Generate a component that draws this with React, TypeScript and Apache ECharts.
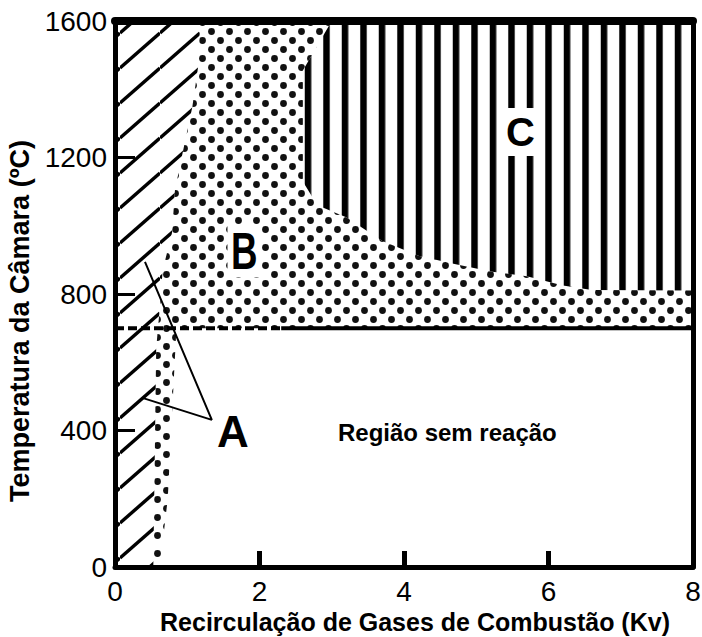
import React, { useEffect, useRef } from "react";
import * as echarts from "echarts";

// ---- axes ----
const xMin = 0;
const xMax = 8;
const xStep = 2;
const yMin = 0;
const yMax = 1600;
const yStep = 400;

// ---- Region A (diagonal hatch): right edge, bottom -> top ----
const hatchEdgeX = [0.53, 0.57, 0.62, 0.66, 0.79, 0.83, 0.93, 1.07, 1.15, 1.18];
const hatchEdgeY = [0, 640, 760, 870, 980, 1105, 1207, 1348, 1465, 1600];

// ---- Region C (vertical stripes): edge, top-left -> right ----
const stripeEdgeX = [3.0, 2.6, 2.6, 2.8, 3.2, 3.7, 4.2, 4.7, 5.2, 5.7, 6.2, 6.6, 8];
const stripeEdgeY = [1600, 1455, 1130, 1060, 1025, 955, 912, 888, 866, 852, 825, 812, 810];

// ---- Region B dotted strip below the threshold: right edge, bottom -> top ----
const dotStripX = [0.62, 0.73, 0.85];
const dotStripY = [0, 200, 700];

// ---- threshold line ----
const thresholdTemp = 700;
const dashedEndX = 2.3;

// ---- pointer lines of label A ----
const arrowX = [0.415, 1.34, 0.39];
const arrowY = [894, 431, 495];

// ---- annotations ----
const labelText = ["A", "B", "C", "Região sem reação"];
const labelX = [1.63, 1.79, 5.61, 4.6];
const labelY = [396, 926, 1275, 393];

const regionNames = ["A", "B", "C"];

const NARROW = "'Liberation Sans Narrow', 'Arial Narrow', 'Liberation Sans', Arial, sans-serif";
const SANS = "'Liberation Sans', Arial, Helvetica, sans-serif";

function tile(w: number, h: number, inner: string) {
  return {
    image:
      "data:image/svg+xml;charset=utf-8," +
      encodeURIComponent(
        `<svg xmlns="http://www.w3.org/2000/svg" width="${w}" height="${h}" viewBox="0 0 ${w} ${h}">${inner}</svg>`
      ),
    imageWidth: w,
    imageHeight: h,
    repeat: "repeat",
  };
}

function hatchPattern() {
  const W = 40;
  const H = 35;
  const d = -2;
  let s = "";
  for (let k = -2; k <= 2; k++) {
    s += `<line x1="0" y1="${H + k * H + d}" x2="${W}" y2="${k * H + d}" stroke="#000" stroke-width="3.5"/>`;
  }
  return tile(W, H, s);
}

function dotPattern() {
  const s =
    `<circle cx="4.5" cy="4.5" r="3.4" fill="#111"/>` +
    `<circle cx="13.5" cy="13.5" r="3.4" fill="#111"/>`;
  return tile(18, 18, s);
}

function stripePattern() {
  const s = `<rect x="8.75" y="0" width="6.5" height="10" fill="#000"/>`;
  return tile(18.5, 10, s);
}

function zipPts(xs: number[], ys: number[]) {
  return xs.map((x, i) => [x, ys[i]]);
}

function buildRegions() {
  const hatch = zipPts(hatchEdgeX, hatchEdgeY);
  const stripe = zipPts(stripeEdgeX, stripeEdgeY);
  const strip = zipPts(dotStripX, dotStripY);
  const A = [[xMin, yMin], ...hatch, [xMin, yMax]];
  const B = [
    ...hatch,
    ...stripe,
    [xMax, thresholdTemp],
    ...strip.slice().reverse(),
  ];
  const C = [...stripe, [xMax, yMax]];
  return [A, B, C];
}

export default function App() {
  const ref = useRef<HTMLDivElement>(null);

  useEffect(() => {
    document.body.style.margin = "0";
    if (!ref.current) return;
    const chart = echarts.init(ref.current, undefined, { renderer: "svg" });
    const regions = buildRegions();
    const patterns = [hatchPattern(), dotPattern(), stripePattern()];

    const labelStyles: any[] = [
      { fontFamily: SANS, fontWeight: "bold", fontSize: 44 },
      { fontFamily: SANS, fontWeight: "bold", fontSize: 51, backgroundColor: "#fff", padding: [1, 5] },
      { fontFamily: SANS, fontWeight: "bold", fontSize: 40, backgroundColor: "#fff", padding: [4, 7] },
      { fontFamily: SANS, fontWeight: "bold", fontSize: 24 },
    ];
    const labelScaleX = [1, 0.72, 1, 1];

    const option: any = {
      animation: false,
      backgroundColor: "#fff",
      grid: {
        left: 115,
        right: 9,
        top: 21,
        bottom: 70,
        containLabel: false,
        outerBoundsMode: "none",
      },
      xAxis: [
        {
          type: "value",
          min: xMin,
          max: xMax,
          interval: xStep,
          position: "bottom",
          z: 10,
          axisLine: { show: true, onZero: false, lineStyle: { color: "#000", width: 5 } },
          axisTick: { show: true, inside: true, length: 16, lineStyle: { color: "#000", width: 5 } },
          splitLine: { show: false },
          axisLabel: {
            fontFamily: NARROW,
            fontSize: 28,
            color: "#000",
            margin: 10,
            formatter: (v: number) => String(v),
          },
          name: "Recirculação de Gases de Combustão (Kv)",
          nameLocation: "middle",
          nameGap: 42,
          nameTextStyle: { fontFamily: SANS, fontWeight: "bold", fontSize: 25, color: "#000", padding: [0, 0, 0, 22] },
        },
        {
          type: "value",
          min: xMin,
          max: xMax,
          position: "top",
          z: 10,
          axisLine: { show: true, onZero: false, lineStyle: { color: "#000", width: 8 } },
          axisTick: { show: false },
          axisLabel: { show: false },
          splitLine: { show: false },
        },
      ],
      yAxis: [
        {
          type: "value",
          min: yMin,
          max: yMax,
          interval: yStep,
          position: "left",
          z: 10,
          axisLine: { show: true, onZero: false, lineStyle: { color: "#000", width: 5 } },
          axisTick: { show: true, inside: true, length: 20, lineStyle: { color: "#000", width: 3 } },
          splitLine: { show: false },
          axisLabel: {
            fontFamily: NARROW,
            fontSize: 28,
            color: "#000",
            margin: 8,
            formatter: (v: number) => String(v),
          },
          name: "Temperatura da Câmara (ºC)",
          nameLocation: "middle",
          nameGap: 63,
          nameTextStyle: { fontFamily: SANS, fontWeight: "bold", fontSize: 27, color: "#000", padding: [0, 54, 0, 0] },
        },
        {
          type: "value",
          min: yMin,
          max: yMax,
          position: "right",
          z: 10,
          axisLine: { show: true, onZero: false, lineStyle: { color: "#000", width: 5 } },
          axisTick: { show: false },
          axisLabel: { show: false },
          splitLine: { show: false },
        },
      ],
      series: [
        {
          type: "custom",
          name: "regions",
          clip: true,
          z: 1,
          data: regionNames.map((_, i) => [i, 0]),
          renderItem: (params: any, api: any) => {
            const i = params.dataIndex;
            const pts = regions[i].map((p) => api.coord(p));
            return {
              type: "polygon",
              shape: { points: pts },
              style: { fill: patterns[i], stroke: null },
            };
          },
          silent: true,
        },
        {
          type: "line",
          name: "threshold-dashed",
          data: [
            [xMin, thresholdTemp],
            [dashedEndX, thresholdTemp],
          ],
          symbol: "none",
          z: 4,
          lineStyle: { color: "#000", width: 4, type: [9, 4] },
          silent: true,
        },
        {
          type: "line",
          name: "threshold",
          data: [
            [dashedEndX, thresholdTemp],
            [xMax, thresholdTemp],
          ],
          symbol: "none",
          z: 4,
          lineStyle: { color: "#000", width: 4 },
          silent: true,
        },
        {
          type: "line",
          name: "pointer",
          data: zipPts(arrowX, arrowY),
          symbol: "none",
          z: 5,
          lineStyle: { color: "#000", width: 2 },
          silent: true,
        },
        {
          type: "custom",
          name: "labels",
          z: 6,
          clip: false,
          data: zipPts(labelX, labelY),
          renderItem: (params: any, api: any) => {
            const i = params.dataIndex;
            const p = api.coord([api.value(0), api.value(1)]);
            return {
              type: "text",
              x: p[0],
              y: p[1],
              scaleX: labelScaleX[i],
              style: {
                text: labelText[i],
                fill: "#000",
                align: "center",
                verticalAlign: "middle",
                ...labelStyles[i],
              },
            };
          },
          silent: true,
        },
      ],
    };
    chart.setOption(option);
    return () => chart.dispose();
  }, []);

  return <div ref={ref} style={{ width: 702, height: 637 }} />;
}
